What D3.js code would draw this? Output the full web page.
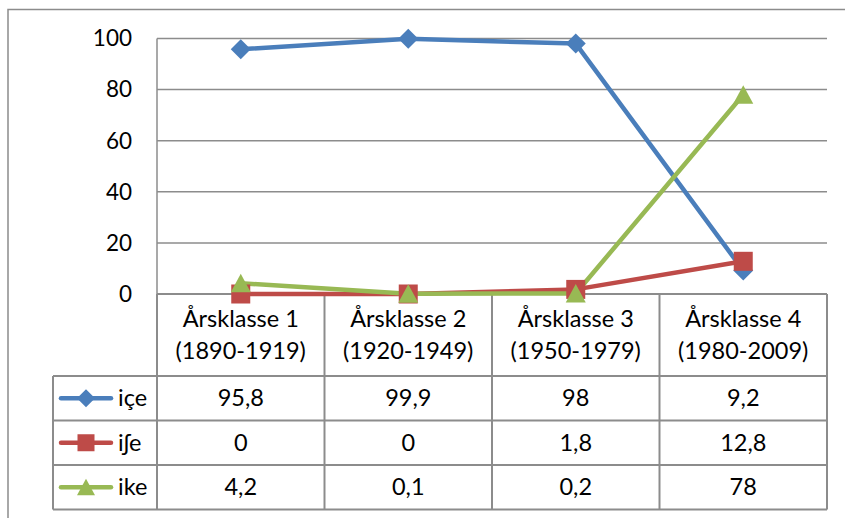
<!DOCTYPE html>
<html><head><meta charset="utf-8">
<script src="https://cdn.jsdelivr.net/npm/d3@7"></script>
<style>body{margin:0;background:#fff}svg{display:block}text{font-family:Lato,"Open Sans","Noto Sans",sans-serif;fill:#000}</style>
</head><body><svg id="c" width="845" height="518"></svg>
<script>
const categories = ["Årsklasse 1|(1890-1919)","Årsklasse 2|(1920-1949)","Årsklasse 3|(1950-1979)","Årsklasse 4|(1980-2009)"];
const seriesNames = ["içe","iʃe","ike"];
const iceValues = [95.8, 99.9, 98, 9.2];
const isheValues = [0, 0, 1.8, 12.8];
const ikeValues = [4.2, 0.1, 0.2, 78];
const tableLabels = [["95,8","99,9","98","9,2"],["0","0","1,8","12,8"],["4,2","0,1","0,2","78"]];
const yTicks = [0,20,40,60,80,100];
const colors = ["#4A7EBB","#BE4B48","#98B954"];
const markers = ["diamond","square","triangle"];

const svg = d3.select("#c");
const L=157, R=827, T=38.5, B=294;
const rowH = 44.5, headerB = 376, tableLeft = 53;
const grid = "#8c8c8c";
const FS = 22.5, FT = 23.5;

svg.append("rect").attr("x",8).attr("y",9.5).attr("width",860).attr("height",530)
  .attr("fill","none").attr("stroke","#8c8c8c").attr("stroke-width",1.5);

const x = d3.scaleBand().domain(d3.range(categories.length)).range([L,R]).padding(0);
const y = d3.scaleLinear().domain([0,100]).range([B,T]);

svg.append("g").selectAll("line").data(yTicks).join("line")
  .attr("x1",L).attr("x2",R).attr("y1",d=>y(d)).attr("y2",d=>y(d))
  .attr("stroke",grid).attr("stroke-width",1.5);
svg.append("line").attr("x1",L).attr("x2",L).attr("y1",T).attr("y2",B).attr("stroke",grid).attr("stroke-width",1.5);

svg.append("g").selectAll("text").data(yTicks).join("text")
  .attr("x",132).attr("y",d=>y(d)).attr("dy","0.35em").attr("text-anchor","end")
  .attr("font-size",FS).text(d=>d);

const tbl = svg.append("g").attr("stroke",grid).attr("stroke-width",2).attr("fill","none");
const rowsBottom = headerB + rowH*3;
const bounds = categories.map((c,i)=>x(i)).concat([R]);
bounds.forEach(b=>tbl.append("line").attr("x1",b).attr("x2",b).attr("y1",B).attr("y2",rowsBottom));
tbl.append("line").attr("x1",tableLeft).attr("x2",tableLeft).attr("y1",headerB).attr("y2",rowsBottom);
tbl.append("line").attr("x1",L).attr("x2",R).attr("y1",B).attr("y2",B);
[0,1,2,3].forEach(i=>tbl.append("line").attr("x1",tableLeft).attr("x2",R).attr("y1",headerB+i*rowH).attr("y2",headerB+i*rowH));

const hdr = svg.append("g").selectAll("text").data(categories).join("text")
  .attr("x",(d,i)=>x(i)+x.bandwidth()/2).attr("text-anchor","middle").attr("font-size",FT);
hdr.each(function(d){
  const parts=d.split("|"); const t=d3.select(this);
  t.append("tspan").attr("x",t.attr("x")).attr("y",B+33).text(parts[0]);
  t.append("tspan").attr("x",t.attr("x")).attr("y",B+65).text(parts[1]);
});

tableLabels.forEach((row,r)=>{
  svg.append("g").selectAll("text").data(row).join("text")
    .attr("x",(d,i)=>x(i)+x.bandwidth()/2).attr("y",headerB+r*rowH+rowH/2).attr("dy","0.35em")
    .attr("text-anchor","middle").attr("font-size",FT).text(d=>d);
});

function drawMarker(g, type, cx, cy, color, s){
  if(type==="diamond"){
    g.append("path").attr("d",`M${cx},${cy-s}L${cx+s},${cy}L${cx},${cy+s}L${cx-s},${cy}Z`).attr("fill",color);
  } else if(type==="square"){
    g.append("rect").attr("x",cx-s).attr("y",cy-s).attr("width",s*2).attr("height",s*2).attr("fill",color);
  } else {
    g.append("path").attr("d",`M${cx},${cy-s*0.95}L${cx+s},${cy+s*0.9}L${cx-s},${cy+s*0.9}Z`).attr("fill",color);
  }
}

seriesNames.forEach((n,r)=>{
  const cy = headerB + r*rowH + rowH/2;
  const g = svg.append("g");
  g.append("line").attr("x1",61).attr("x2",111).attr("y1",cy).attr("y2",cy).attr("stroke",colors[r]).attr("stroke-width",4.5).attr("stroke-linecap","round");
  drawMarker(g, markers[r], 86, cy, colors[r], r===0?9:(r===1?8.5:9));
  svg.append("text").attr("x",118).attr("y",cy).attr("dy","0.35em").attr("font-size",FT).text(n);
});

const allSeries = [iceValues, isheValues, ikeValues];
const line = d3.line().x((d,i)=>x(i)+x.bandwidth()/2).y(d=>y(d));
allSeries.forEach((vals,s)=>{
  svg.append("path").datum(vals).attr("d",line).attr("fill","none")
    .attr("stroke",colors[s]).attr("stroke-width",4.5).attr("stroke-linejoin","round");
});
allSeries.forEach((vals,s)=>{
  const g = svg.append("g");
  vals.forEach((v,i)=>drawMarker(g, markers[s], x(i)+x.bandwidth()/2, y(v), colors[s], s===0?10:(s===1?9.5:10)));
});
</script></body></html>
